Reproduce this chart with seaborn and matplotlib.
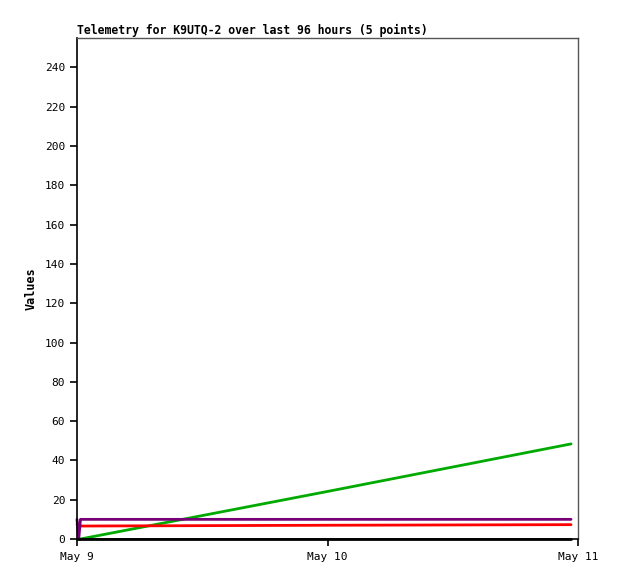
import pandas as pd
import matplotlib
matplotlib.use('Agg')
import matplotlib.pyplot as plt
import matplotlib.dates as mdates
import seaborn as sns

# Telemetry samples (5 points)
times = ['2024-05-09 00:00', '2024-05-09 00:10', '2024-05-09 00:20',
         '2024-05-10 00:00', '2024-05-10 23:20']
ch_black = [0, 0, 0, 0, 0]
ch_green = [0, 0, 0, 24.2, 48.4]
ch_red = [7.5, 6.5, 6.6, 7.0, 7.3]
ch_purple = [10, 0, 10, 10, 10]

series = {
    'black': (ch_black, '#000000'),
    'green': (ch_green, '#00aa00'),
    'red': (ch_red, '#ff0000'),
    'purple': (ch_purple, '#770077'),
}

sns.set_style('white')
plt.rcParams['font.family'] = ['DejaVu Sans Mono']
plt.rcParams['text.color'] = 'black'
plt.rcParams['axes.labelcolor'] = 'black'

t = pd.to_datetime(times)

fig = plt.figure(figsize=(6.18, 5.79), dpi=100)
ax = fig.add_axes([77 / 618, 40 / 579, 501 / 618, 501 / 579])

for name in ['green', 'red', 'purple', 'black']:
    vals, col = series[name]
    df = pd.DataFrame({'time': t, 'value': vals})
    sns.lineplot(data=df, x='time', y='value', color=col, linewidth=2, ax=ax, clip_on=False)

ax.set_xlim(pd.Timestamp('2024-05-09'), pd.Timestamp('2024-05-11'))
ax.set_ylim(0, 255)
ax.set_yticks(range(0, 241, 20))
ax.xaxis.set_major_locator(mdates.DayLocator())
ax.xaxis.set_major_formatter(mdates.DateFormatter('%b %-d'))

ax.tick_params(axis='both', direction='out', length=5, width=1.2, labelsize=8,
               colors='black', bottom=True, left=True)
ax.tick_params(axis='x', pad=4)
ax.set_xlabel('')
ax.set_ylabel('Values', fontsize=8.5, fontweight='bold', labelpad=5, color='black')
ax.set_title('Telemetry for K9UTQ-2 over last 96 hours (5 points)', loc='left',
             fontsize=8.3, fontweight='bold', pad=3, color='black')

for side in ['left', 'bottom']:
    ax.spines[side].set_color('black')
    ax.spines[side].set_linewidth(1.2)
for side in ['top', 'right']:
    ax.spines[side].set_color('#555555')
    ax.spines[side].set_linewidth(1)

fig.savefig('out.png', dpi=100)
